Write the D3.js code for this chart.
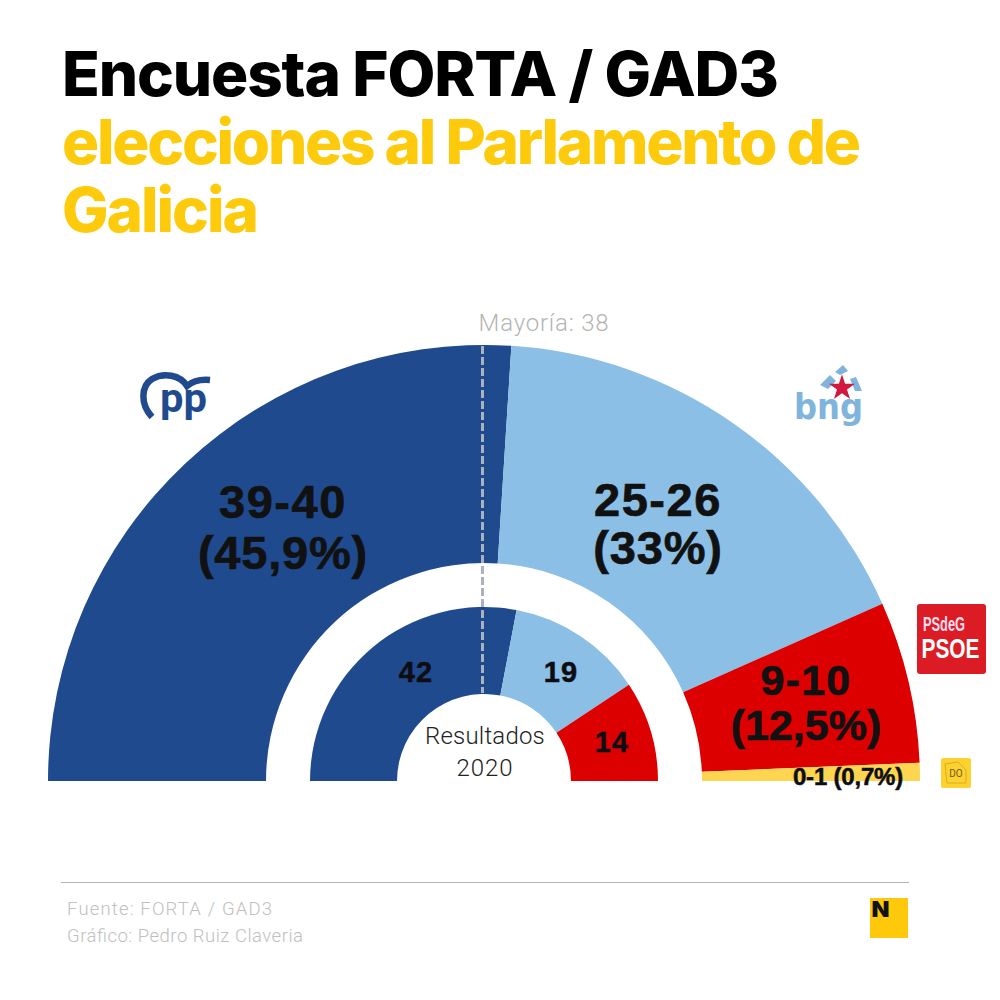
<!DOCTYPE html>
<html>
<head>
    <meta charset="utf-8">
    <script src="https://cdnjs.cloudflare.com/ajax/libs/d3/7.8.5/d3.min.js"></script>
    <style>
    html, body { margin: 0; background: #fff; }
    svg { display: block; }
    .title { font-family: Inter, sans-serif; font-weight: 800; font-size: 62px; }
    .big { font-family: "Liberation Sans", sans-serif; font-weight: 700; fill: #111; stroke: #111; stroke-width: .7px; text-anchor: middle; }
    .small { font-family: "Liberation Sans", sans-serif; font-weight: 700; fill: #0d0d14; stroke: #0d0d14; stroke-width: .5px; text-anchor: middle; }
    .light { font-family: Roboto, sans-serif; font-weight: 300; fill: #b5b5b5; }
    </style>
</head>
<body>
<svg id="chart" width="1000" height="1000"></svg>
<script>
    // encuesta (escaños usados para dibujar el arco, suman 75)
    var surveyParties = ['PP', 'BNG', 'PSdeG', 'DO'];
    var surveySeats = [39, 26, 9, 1];
    var surveyLabels = [['39-40', '(45,9%)'], ['25-26', '(33%)'], ['9-10', '(12,5%)'], ['0-1 (0,7%)']];
    // resultados 2020
    var resultParties = ['PP', 'BNG', 'PSdeG'];
    var resultSeats = [42, 19, 14];
    var colors = {PP: '#1f4b8e', BNG: '#8bbfe5', PSdeG: '#dc0000', DO: '#fdd550'};

    const svg = d3.select('#chart');
    const cx = 484, cy = 781;
    const semi = d3.pie().sort(null).startAngle(-Math.PI / 2).endAngle(Math.PI / 2);

    // titulo, cada linea ajustada a su ancho
    function titleLine(txt, y, color, w) {
        svg.append('text').attr('class', 'title').attr('x', 62).attr('y', y).attr('fill', color)
            .attr('textLength', w).attr('lengthAdjust', 'spacing').text(txt);
    }
    titleLine('Encuesta FORTA / GAD3', 96, '#000', 717);
    titleLine('elecciones al Parlamento de', 164, '#fdcb0c', 799);
    titleLine('Galicia', 232, '#fdcb0c', 197);

    const g = svg.append('g').attr('transform', `translate(${cx},${cy})`);

    function ring(seats, parties, inner, outer) {
        const arc = d3.arc().innerRadius(inner).outerRadius(outer);
        g.selectAll(null).data(semi(seats)).join('path')
            .attr('d', arc)
            .attr('fill', (d, i) => colors[parties[i]]);
    }
    ring(surveySeats, surveyParties, 218, 436);
    ring(resultSeats, resultParties, 87, 174);

    // linea de mayoria
    svg.append('line').attr('x1', 482.5).attr('x2', 482.5).attr('y1', 346).attr('y2', 693)
        .attr('stroke', '#aab2c0').attr('stroke-width', 3).attr('stroke-dasharray', '8 3');
    svg.append('text').attr('class', 'light').attr('x', 544).attr('y', 331).attr('text-anchor', 'middle')
        .attr('font-size', 24).attr('letter-spacing', .8).text('Mayoría: 38');

    // etiquetas
    const labelPos = [[283, 518, 569, 47, 1.6], [658, 516, 564, 47, 1.6], [806, 695, 740, 43, 1.2]];
    surveyLabels.slice(0, 3).forEach((l, i) => {
        const p = labelPos[i];
        svg.append('text').attr('class', 'big').attr('x', p[0]).attr('y', p[1]).attr('font-size', p[3]).attr('letter-spacing', p[4]).text(l[0]);
        svg.append('text').attr('class', 'big').attr('x', p[0]).attr('y', p[2]).attr('font-size', p[3]).attr('letter-spacing', i == 2 ? 0 : p[4] / 2).text(l[1]);
    });
    svg.append('text').attr('class', 'small').attr('x', 848).attr('y', 785).attr('font-size', 24).attr('letter-spacing', -.2).text(surveyLabels[3][0]);

    const resultPos = [[416, 682], [561, 682], [612, 752]];
    resultSeats.forEach((v, i) => {
        svg.append('text').attr('class', 'small').attr('x', resultPos[i][0]).attr('y', resultPos[i][1])
            .attr('font-size', 29).attr('letter-spacing', 1).text(v);
    });
    svg.append('text').attr('class', 'light').attr('x', 485).attr('y', 744).attr('text-anchor', 'middle')
        .attr('font-size', 24).attr('letter-spacing', .2).style('fill', '#222').text('Resultados');
    svg.append('text').attr('class', 'light').attr('x', 485).attr('y', 776).attr('text-anchor', 'middle')
        .attr('font-size', 24).attr('letter-spacing', 1).style('fill', '#222').text('2020');

    // logo PP
    svg.append('path').attr('fill', 'none').attr('stroke', colors.PP).attr('stroke-width', 6.5)
        .attr('d', 'M152 417C140 404 141 386 152 379C164 372 180 375 187 386C193 381 200 379 210 380');
    svg.append('text').attr('x', 160).attr('y', 412).attr('fill', colors.PP).attr('font-family', 'Roboto, sans-serif').attr('font-weight', 700)
        .attr('font-size', 41).attr('textLength', 47).attr('lengthAdjust', 'spacingAndGlyphs').text('pp');

    // logo BNG
    svg.append('text').attr('x', 794).attr('y', 419).attr('font-family', '"DejaVu Sans", sans-serif').attr('font-weight', 700)
        .attr('font-size', 36).attr('textLength', 69).attr('lengthAdjust', 'spacingAndGlyphs').attr('fill', '#7fb4dc').text('bng');
    svg.append('path').attr('fill', '#7fb4dc')
        .attr('d', 'M835 372L843 365L848 371L840 375ZM820 385L830 375L836 381L828 389ZM850 379L856 377L862 391L855 391Z');
    svg.append('path').attr('fill', '#d3183e').attr('d', d3.symbol(d3.symbolStar, 210)()).attr('transform', 'translate(842,388)');

    // logo PSOE
    svg.append('rect').attr('x', 917).attr('y', 604).attr('width', 69).attr('height', 70).attr('rx', 3).attr('fill', '#dc1c24');
    svg.append('text').attr('x', 923).attr('y', 631).attr('font-family', '"Liberation Sans Narrow", "Liberation Sans", sans-serif').attr('font-weight', 700)
        .attr('font-size', 20).attr('fill', '#fde').attr('textLength', 42).attr('lengthAdjust', 'spacingAndGlyphs').text('PSdeG');
    svg.append('text').attr('x', 921.5).attr('y', 658).attr('font-family', '"Liberation Sans", sans-serif').attr('font-weight', 700)
        .attr('font-size', 28).attr('fill', '#fff').attr('textLength', 58).attr('lengthAdjust', 'spacingAndGlyphs').text('PSOE');

    // logo DO
    svg.append('rect').attr('x', 941).attr('y', 758).attr('width', 30).attr('height', 30).attr('rx', 2).attr('fill', '#fdd12e');
    svg.append('path').attr('fill', 'none').attr('stroke', '#d9ae2a').attr('stroke-width', 1)
        .attr('d', 'M945 764L958 762L966 770L966 783L947 783Z');
    svg.append('text').attr('x', 956).attr('y', 777).attr('text-anchor', 'middle').attr('font-family', 'Roboto, sans-serif')
        .attr('font-size', 10).attr('fill', '#6d5c18').text('DO');

    // pie
    svg.append('line').attr('x1', 61).attr('x2', 909).attr('y1', 882.5).attr('y2', 882.5).attr('stroke', '#b5b5b5').attr('stroke-width', 1);
    svg.append('text').attr('class', 'light').attr('x', 67).attr('y', 915).attr('font-size', 18.5).attr('textLength', 205).style('fill', '#c0c0c0').text('Fuente: FORTA / GAD3');
    svg.append('text').attr('class', 'light').attr('x', 67).attr('y', 942).attr('font-size', 18.5).attr('textLength', 236).style('fill', '#c0c0c0').text('Gráfico: Pedro Ruiz Claveria');

    // logo N
    svg.append('rect').attr('x', 870).attr('y', 898).attr('width', 38).attr('height', 40).attr('fill', '#fdc90a');
    svg.append('text').attr('x', 871.5).attr('y', 917).attr('font-family', 'Inter, sans-serif').attr('font-weight', 900)
        .attr('font-size', 22).attr('fill', '#111').attr('textLength', 18).attr('lengthAdjust', 'spacingAndGlyphs').text('N');
</script>
</body>
</html>
